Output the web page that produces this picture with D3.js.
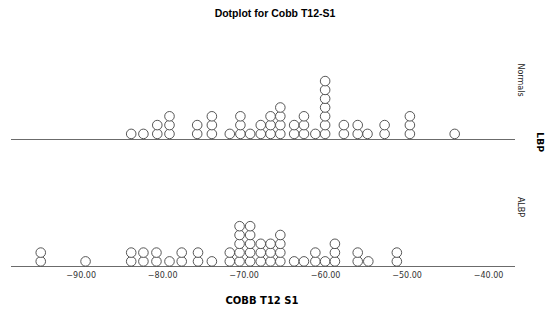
<!DOCTYPE html>
<html>
<head>
<meta charset="utf-8">
<script src="https://cdn.jsdelivr.net/npm/d3@7"></script>
<style>
  body { margin: 0; background: #fff; }
  svg { display: block; font-family: "DejaVu Sans", sans-serif; }
</style>
</head>
<body>
<svg id="chart" width="550" height="316"></svg>
<script>
const normals = [
  -83.8, -82.3, -80.6, -80.6, -79.1, -79.1, -79.1,
  -75.7, -75.7, -73.9, -73.9, -73.9, -71.7,
  -70.4, -70.4, -70.4, -69.2, -67.9, -67.9,
  -66.7, -66.7, -66.7, -65.5, -65.5, -65.5, -65.5,
  -63.8, -63.8, -62.6, -62.6, -62.6, -61.2,
  -60.0, -60.0, -60.0, -60.0, -60.0, -60.0, -60.0,
  -57.7, -57.7, -56.0, -56.0, -54.8, -52.7, -52.7,
  -49.6, -49.6, -49.6, -44.1
];
const albp = [
  -94.9, -94.9, -89.4, -83.8, -83.8, -82.3, -82.3, -80.7, -80.7,
  -79.1, -77.6, -77.6, -75.6, -75.6, -73.9,
  -71.7, -71.7, -70.5, -70.5, -70.5, -70.5, -70.5,
  -69.2, -69.2, -69.2, -69.2, -69.2, -67.9, -67.9, -67.9,
  -66.7, -66.7, -66.7, -65.5, -65.5, -65.5, -65.5,
  -63.8, -62.6, -61.2, -61.2, -60.0, -58.8, -58.8, -58.8,
  -56.0, -56.0, -54.7, -51.2, -51.2
];
const panels = ["Normals", "ALBP"];
const tickValues = [-90, -80, -70, -60, -50, -40];

const svg = d3.select("#chart");
const r = 4.8, step = 8.8;

const x = d3.scaleLinear()
    .domain([-98.55, -36.7])
    .range([11, 515]);

const baseY = d3.scaleOrdinal()
    .domain(panels)
    .range([139, 266.5]);

const fmt = d => d3.format(".2f")(d).replace("-", "\u2212");

svg.append("text")
    .attr("x", 275).attr("y", 17)
    .attr("text-anchor", "middle")
    .attr("font-size", 10.5)
    .attr("font-weight", "bold")
    .attr("font-family", "Liberation Sans, sans-serif")
    .text("Dotplot for Cobb T12-S1");

[normals, albp].forEach(function(vals, i) {
    var name = panels[i],
        base = baseY(name);

    var stack = d3.scaleLinear()
        .domain([0, 1])
        .range([base - r - 0.3, base - r - 0.3 - step]);

    // stack equal values on top of each other
    var dots = [];
    d3.groups(vals, v => v).forEach(function(g) {
        g[1].forEach(function(v, k) { dots.push({value: v, k: k}); });
    });

    svg.append("line")
        .attr("x1", x.range()[0]).attr("x2", x.range()[1])
        .attr("y1", base).attr("y2", base)
        .style("stroke", "#6b6b6b")
        .style("shape-rendering", "crispEdges");

    svg.append("g")
        .selectAll("circle")
        .data(dots)
        .enter().append("circle")
        .attr("cx", d => x(d.value))
        .attr("cy", d => stack(d.k))
        .attr("r", r)
        .style("fill", "#fff")
        .style("stroke", "#444")
        .attr("stroke-width", 0.9);

    svg.append("text")
        .attr("transform", "translate(521," + (i == 0 ? 80 : 207) + ") rotate(90)")
        .attr("text-anchor", "middle")
        .attr("dy", "0.35em")
        .attr("font-size", 8)
        .style("fill", "#222")
        .text(name);
});

svg.append("text")
    .attr("transform", "translate(540,142) rotate(90)")
    .attr("text-anchor", "middle")
    .attr("dy", "0.35em")
    .attr("font-size", 9.5)
    .attr("font-weight", "bold")
    .text("LBP");

var axis = svg.append("g")
    .attr("transform", "translate(0," + baseY("ALBP") + ")")
    .call(d3.axisBottom(x).tickValues(tickValues).tickSize(0).tickPadding(6).tickFormat(fmt));
axis.select(".domain").remove();
axis.selectAll("text")
    .attr("font-size", 8)
    .attr("font-family", "DejaVu Sans, sans-serif")
    .style("fill", "#333");

svg.append("text")
    .attr("x", 262).attr("y", 304)
    .attr("text-anchor", "middle")
    .attr("font-size", 10)
    .attr("font-weight", "bold")
    .attr("font-family", "DejaVu Sans, sans-serif")
    .text("COBB T12 S1");
</script>
</body>
</html>
